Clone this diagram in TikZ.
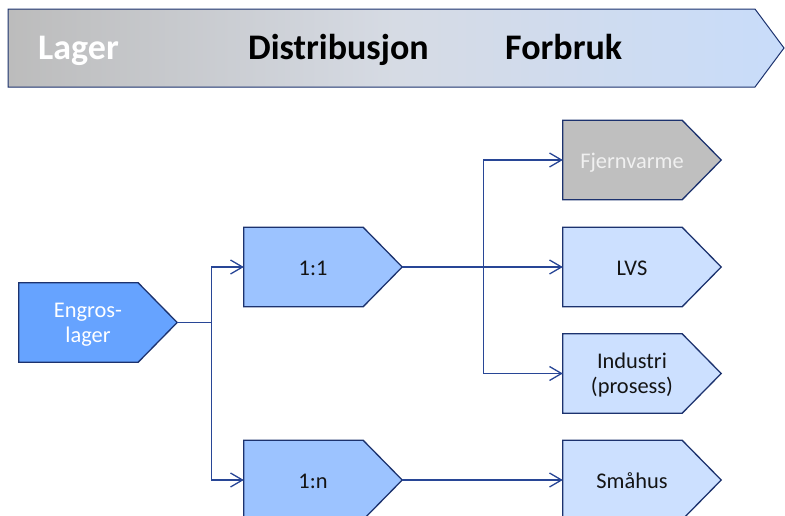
\documentclass[tikz,border=0pt]{standalone}
\usepackage{fontspec}
\setmainfont{Carlito}
\usetikzlibrary{arrows.meta,calc,backgrounds}

\definecolor{edge}{RGB}{28,50,110}
\definecolor{wire}{RGB}{40,70,150}
\definecolor{deepblue}{RGB}{102,163,255}
\definecolor{midblue}{RGB}{156,195,255}
\definecolor{paleblue}{RGB}{204,224,255}
\definecolor{greybox}{RGB}{191,191,191}
\definecolor{bandleft}{RGB}{188,188,188}
\definecolor{bandmid}{RGB}{214,219,228}
\definecolor{bandright}{RGB}{200,220,250}
\definecolor{ink}{RGB}{20,20,20}

\tikzset{
  stage/.style={minimum width=138, minimum height=79, inner sep=0,
    text height=19pt, text depth=2pt,
    align=center, text=ink, font=\fontsize{22.4}{25}\selectfont},
  twoline/.style={text height=42.4pt},
  bandtext/.style={anchor=base west, inner sep=0,
    font=\bfseries\fontsize{36}{42}\selectfont},
  wireline/.style={draw=wire, line width=1.4pt},
  conn/.style={wireline,
    -{Straight Barb[length=12pt,width=14pt,line width=1.3pt]}},
  plate/.style={draw=edge, line width=1.3pt}
}

\begin{document}
\begin{tikzpicture}[x=1pt,y=-1pt]
\clip (0,0) rectangle (785,515);

% banner across the top
\shadedraw[draw=edge, line width=1pt,
  left color=bandleft, right color=bandright, middle color=bandmid]
  (8,9) -- (755,9) -- (784,48) -- (755,87) -- (8,87) -- cycle;
\node[bandtext, text=white] (lager) at (38,59) {Lager};
\node[bandtext, text=black] (distr) at (248,59) {Distribusjon};
\node[bandtext, text=black] (forbruk) at (505,59) {Forbruk};

% stage labels
\node[stage, twoline, text=white] (engros) at (88,322.5) {Engros-\\lager};
\node[stage] (one1) at (313,267) {1:1};
\node[stage] (onen) at (313,480) {1:n};
\node[stage, text=white!94!black] (fjern) at (632,160) {Fjernvarme};
\node[stage] (lvs) at (632,267) {LVS};
\node[stage, twoline] (industri) at (632,373.5) {Industri\\(prosess)};
\node[stage] (smahus) at (632,480) {Småhus};

% pentagon outlines behind the labels
\begin{scope}[on background layer]
\foreach \n/\c in {engros/deepblue, one1/midblue, onen/midblue,
                   fjern/greybox, lvs/paleblue, industri/paleblue,
                   smahus/paleblue}{
  \filldraw[plate, fill=\c]
    (\n.north west) -- ($(\n.north east)+(-19,0)$) -- ($(\n.east)+(20,0)$)
    -- ($(\n.south east)+(-19,0)$) -- (\n.south west) -- cycle;
}
\end{scope}

% tips of the source boxes
\coordinate (engros-tip) at ($(engros.east)+(20,0)$);
\coordinate (one1-tip) at ($(one1.east)+(20,0)$);
\coordinate (onen-tip) at ($(onen.east)+(20,0)$);
\coordinate (fork-a) at ($(engros-tip)+(34,0)$);
\coordinate (fork-b) at ($(one1-tip)+(81,0)$);

% connectors
\draw[wireline] (engros-tip) -- (fork-a);
\draw[conn] (fork-a) |- (one1.west);
\draw[conn] (fork-a) |- (onen.west);
\draw[conn] (one1-tip) -- (lvs.west);
\draw[conn] (fork-b) |- (fjern.west);
\draw[conn] (fork-b) |- (industri.west);
\draw[conn] (onen-tip) -- (smahus.west);
\end{tikzpicture}
\end{document}
